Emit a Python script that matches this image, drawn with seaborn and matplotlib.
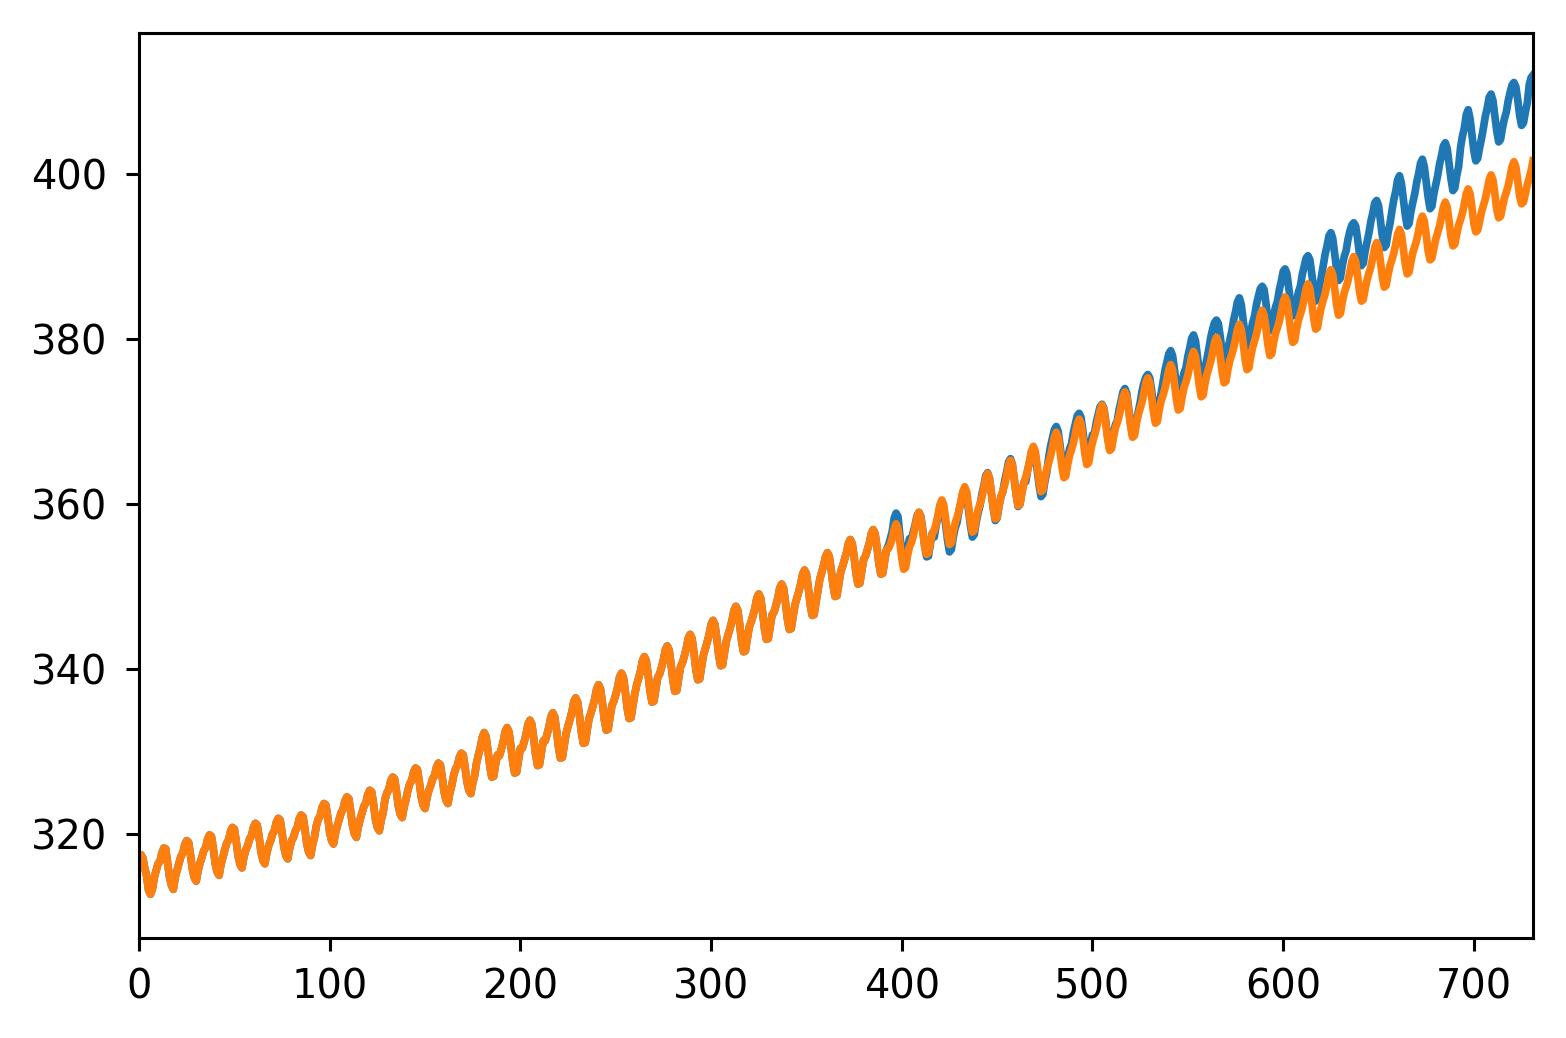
import numpy as np
import pandas as pd
import matplotlib
matplotlib.use("Agg")
import matplotlib.pyplot as plt
import seaborn as sns

# Monthly CO2 (ppm), Apr 1958 .. Mar 2019, one row per year
co2_observed = [
    317.5, 317.5, 317.1, 315.9, 314.9, 313.2, 312.7, 313.3, 314.7,                 # 1958 (Apr-Dec)
    315.6, 316.4, 316.7, 317.7, 318.3, 318.2, 316.5, 314.8, 313.8, 313.3, 314.8, 315.6,  # 1959
    316.5, 317.3, 317.7, 318.7, 319.2, 319.0, 317.5, 315.7, 314.7, 314.3, 315.6, 316.5,  # 1960
    317.2, 318.0, 318.4, 319.4, 319.9, 319.7, 318.2, 316.4, 315.4, 315.0, 316.3, 317.2,  # 1961
    318.1, 318.9, 319.3, 320.3, 320.8, 320.6, 319.1, 317.3, 316.3, 315.9, 317.2, 318.1,  # 1962
    318.6, 319.4, 319.8, 320.8, 321.3, 321.1, 319.6, 317.8, 316.8, 316.4, 317.7, 318.6,  # 1963
    319.2, 320.0, 320.4, 321.4, 321.9, 321.7, 320.2, 318.4, 317.4, 317.0, 318.3, 319.2,  # 1964
    319.6, 320.4, 320.8, 321.8, 322.3, 322.1, 320.6, 318.8, 317.8, 317.4, 318.7, 319.6,  # 1965
    321.0, 321.8, 322.2, 323.2, 323.7, 323.5, 322.0, 320.2, 319.2, 318.8, 320.1, 321.0,  # 1966
    321.8, 322.6, 323.0, 324.0, 324.5, 324.3, 322.8, 321.0, 320.0, 319.6, 320.9, 321.8,  # 1967
    322.6, 323.4, 323.8, 324.8, 325.3, 325.1, 323.6, 321.8, 320.8, 320.4, 321.7, 322.6,  # 1968
    324.2, 325.0, 325.4, 326.4, 326.9, 326.7, 325.2, 323.4, 322.4, 322.0, 323.3, 324.2,  # 1969
    325.3, 326.1, 326.5, 327.5, 328.0, 327.8, 326.3, 324.5, 323.5, 323.1, 324.4, 325.3,  # 1970
    325.9, 326.7, 327.1, 328.1, 328.6, 328.4, 326.9, 325.1, 324.1, 323.7, 325.0, 325.9,  # 1971
    327.1, 327.9, 328.3, 329.3, 329.8, 329.6, 328.1, 326.3, 325.3, 324.9, 326.2, 327.1,  # 1972
    328.6, 329.6, 330.5, 331.7, 332.3, 331.8, 330.1, 328.2, 326.9, 327.0, 328.5, 329.6,  # 1973
    329.5, 330.3, 331.2, 332.4, 332.9, 332.4, 330.7, 328.7, 327.4, 327.5, 329.0, 330.4,  # 1974
    330.4, 331.2, 332.1, 333.3, 333.8, 333.3, 331.6, 329.6, 328.3, 328.4, 329.9, 331.3,  # 1975
    331.3, 332.1, 333.0, 334.2, 334.7, 334.2, 332.5, 330.5, 329.2, 329.3, 330.8, 332.2,  # 1976
    333.1, 333.9, 334.8, 336.0, 336.5, 336.0, 334.3, 332.3, 331.0, 331.1, 332.6, 334.0,  # 1977
    334.7, 335.5, 336.4, 337.6, 338.1, 337.6, 335.9, 333.9, 332.6, 332.7, 334.2, 335.6,  # 1978
    336.1, 336.9, 337.8, 339.0, 339.5, 339.0, 337.3, 335.3, 334.0, 334.1, 335.6, 337.0,  # 1979
    338.1, 338.9, 339.8, 341.0, 341.5, 341.0, 339.3, 337.3, 336.0, 336.1, 337.6, 339.0,  # 1980
    339.4, 340.2, 341.1, 342.3, 342.8, 342.3, 340.6, 338.6, 337.3, 337.4, 338.9, 340.3,  # 1981
    340.8, 341.6, 342.5, 343.7, 344.2, 343.7, 342.0, 340.0, 338.7, 338.8, 340.3, 341.7,  # 1982
    342.5, 343.3, 344.2, 345.4, 345.9, 345.4, 343.7, 341.7, 340.4, 340.5, 342.0, 343.4,  # 1983
    344.2, 345.0, 345.9, 347.1, 347.6, 347.1, 345.4, 343.4, 342.1, 342.2, 343.7, 345.1,  # 1984
    345.7, 346.5, 347.4, 348.6, 349.1, 348.6, 346.9, 344.9, 343.6, 343.7, 345.2, 346.6,  # 1985
    346.9, 347.7, 348.6, 349.8, 350.3, 349.8, 348.1, 346.1, 344.8, 344.9, 346.4, 347.8,  # 1986
    348.6, 349.4, 350.3, 351.5, 352.0, 351.5, 349.8, 347.8, 346.5, 346.6, 348.1, 349.5,  # 1987
    350.9, 351.7, 352.6, 353.6, 354.1, 353.6, 352.0, 350.1, 348.8, 348.9, 350.4, 351.8,  # 1988
    352.5, 353.3, 354.1, 355.2, 355.7, 355.2, 353.6, 351.6, 350.3, 350.4, 351.9, 353.3,  # 1989
    353.7, 354.5, 355.3, 356.4, 356.9, 356.4, 354.8, 352.8, 351.5, 351.6, 353.1, 354.5,  # 1990
    355.0, 355.8, 356.7, 358.3, 358.9, 358.5, 356.2, 354.2, 352.9, 353.0, 354.5, 355.8,  # 1991
    355.8, 356.6, 357.5, 358.6, 359.0, 358.5, 356.9, 354.9, 353.6, 353.7, 355.2, 356.5,  # 1992
    356.0, 357.4, 358.4, 359.7, 360.3, 359.4, 357.5, 355.6, 354.2, 354.5, 356.0, 357.1,  # 1993
    357.8, 359.2, 360.2, 361.4, 361.8, 361.1, 359.3, 357.4, 356.0, 356.3, 357.8, 358.9,  # 1994
    359.8, 361.2, 362.2, 363.4, 363.8, 363.1, 361.3, 359.4, 358.0, 358.3, 359.8, 360.9,  # 1995
    361.5, 362.9, 363.9, 365.1, 365.5, 364.8, 363.0, 361.1, 359.7, 360.0, 361.5, 362.6,  # 1996
    362.7, 364.1, 365.1, 366.3, 366.8, 366.0, 364.2, 362.3, 360.9, 361.2, 362.7, 363.8,  # 1997
    365.6, 367.0, 368.0, 369.0, 369.4, 368.8, 367.1, 365.2, 363.8, 364.1, 365.6, 366.7,  # 1998
    367.3, 368.7, 369.7, 370.7, 371.0, 370.5, 368.8, 366.9, 365.5, 365.8, 367.3, 368.4,  # 1999
    368.5, 369.9, 370.9, 371.8, 372.1, 371.6, 370.0, 368.1, 366.7, 367.0, 368.5, 369.6,  # 2000
    370.1, 371.5, 372.5, 373.6, 374.0, 373.4, 371.6, 369.7, 368.3, 368.6, 370.1, 371.2,  # 2001
    372.3, 373.7, 374.7, 375.4, 375.7, 375.3, 373.8, 371.9, 370.5, 370.8, 372.3, 373.4,  # 2002
    374.8, 376.2, 377.2, 378.2, 378.6, 378.0, 376.3, 374.4, 373.0, 373.3, 374.8, 375.9,  # 2003
    376.5, 377.9, 378.9, 380.1, 380.5, 379.8, 378.0, 376.1, 374.7, 375.0, 376.5, 377.6,  # 2004
    378.8, 380.2, 381.2, 382.0, 382.3, 381.9, 380.3, 378.4, 377.0, 377.3, 378.8, 379.9,  # 2005
    380.9, 382.3, 383.3, 384.5, 385.0, 384.2, 382.4, 380.5, 379.1, 379.4, 380.9, 382.0,  # 2006
    382.8, 384.2, 385.2, 386.1, 386.4, 386.0, 384.3, 382.4, 381.0, 381.3, 382.8, 383.9,  # 2007
    384.6, 386.0, 387.0, 388.2, 388.5, 387.9, 386.1, 384.2, 382.8, 383.1, 384.6, 385.7,  # 2008
    386.4, 387.8, 388.8, 389.8, 390.1, 389.6, 387.9, 386.0, 384.6, 384.9, 386.4, 387.5,  # 2009
    388.9, 390.3, 391.3, 392.5, 392.9, 392.2, 390.4, 388.5, 387.1, 387.4, 388.9, 390.0,  # 2010
    390.7, 392.1, 393.1, 393.8, 394.1, 393.7, 392.2, 390.3, 388.9, 389.2, 390.7, 391.8,  # 2011
    392.9, 394.3, 395.3, 396.5, 396.8, 396.2, 394.4, 392.5, 391.1, 391.4, 392.9, 394.0,  # 2012
    395.5, 396.9, 397.9, 399.3, 399.8, 398.9, 397.0, 395.1, 393.7, 394.0, 395.5, 396.6,  # 2013
    397.6, 399.0, 400.0, 401.3, 401.8, 400.9, 399.1, 397.2, 395.8, 396.1, 397.6, 398.7,  # 2014
    399.8, 401.2, 402.2, 403.4, 403.8, 403.1, 401.3, 399.4, 398.0, 398.3, 399.8, 400.9,  # 2015
    403.2, 404.6, 405.6, 407.2, 407.8, 406.7, 404.7, 402.8, 401.6, 401.9, 403.2, 404.3,  # 2016
    405.6, 407.0, 408.0, 409.3, 409.7, 408.9, 407.1, 405.2, 403.9, 404.2, 405.6, 406.7,  # 2017
    407.5, 408.9, 409.9, 410.8, 411.1, 410.6, 409.0, 407.1, 405.9, 406.2, 407.5, 408.6,  # 2018
    410.8, 411.7, 412.0,                                                             # 2019 (Jan-Mar)
]

# Model curve: identical to the observations up to Dec 1990, then its own values
co2_model_from_1991 = [
    354.6, 355.1, 355.9, 357.0, 357.6, 357.0, 355.3, 353.4, 352.1, 352.3, 353.7, 354.8,  # 1991
    355.3, 356.1, 357.2, 358.4, 359.0, 358.4, 356.7, 354.8, 353.9, 354.1, 355.4, 356.4,  # 1992
    356.8, 357.6, 358.7, 359.9, 360.5, 359.9, 358.2, 356.3, 355.1, 355.3, 356.6, 357.7,  # 1993
    358.4, 359.2, 360.3, 361.5, 362.1, 361.5, 359.8, 357.9, 356.6, 356.8, 358.2, 359.3,  # 1994
    360.0, 360.8, 361.9, 363.1, 363.7, 363.1, 361.4, 359.5, 358.2, 358.4, 359.8, 360.9,  # 1995
    361.6, 362.4, 363.5, 364.7, 365.3, 364.7, 363.0, 361.1, 359.8, 360.0, 361.4, 362.5,  # 1996
    363.3, 364.1, 365.2, 366.4, 367.0, 366.4, 364.7, 362.8, 361.5, 361.7, 363.1, 364.2,  # 1997
    365.0, 365.8, 366.9, 368.1, 368.7, 368.1, 366.4, 364.5, 363.2, 363.4, 364.8, 365.9,  # 1998
    366.6, 367.4, 368.5, 369.7, 370.3, 369.7, 368.0, 366.1, 364.8, 365.0, 366.4, 367.5,  # 1999
    368.3, 369.1, 370.2, 371.4, 372.0, 371.4, 369.7, 367.8, 366.5, 366.7, 368.1, 369.2,  # 2000
    369.9, 370.7, 371.8, 373.0, 373.6, 373.0, 371.3, 369.4, 368.1, 368.3, 369.7, 370.8,  # 2001
    371.6, 372.4, 373.5, 374.7, 375.3, 374.7, 373.0, 371.1, 369.8, 370.0, 371.4, 372.5,  # 2002
    373.2, 374.0, 375.1, 376.3, 376.9, 376.3, 374.6, 372.7, 371.4, 371.6, 373.0, 374.1,  # 2003
    374.8, 375.6, 376.7, 377.9, 378.5, 377.9, 376.2, 374.3, 373.0, 373.2, 374.6, 375.7,  # 2004
    376.5, 377.3, 378.4, 379.6, 380.2, 379.6, 377.9, 376.0, 374.7, 374.9, 376.3, 377.4,  # 2005
    378.1, 378.9, 380.0, 381.2, 381.8, 381.2, 379.5, 377.6, 376.3, 376.5, 377.9, 379.0,  # 2006
    379.8, 380.6, 381.7, 382.9, 383.5, 382.9, 381.2, 379.3, 378.0, 378.2, 379.6, 380.7,  # 2007
    381.4, 382.2, 383.3, 384.5, 385.1, 384.5, 382.8, 380.9, 379.6, 379.8, 381.2, 382.3,  # 2008
    383.0, 383.8, 384.9, 386.1, 386.7, 386.1, 384.4, 382.5, 381.2, 381.4, 382.8, 383.9,  # 2009
    384.7, 385.5, 386.6, 387.8, 388.4, 387.8, 386.1, 384.2, 382.9, 383.1, 384.5, 385.6,  # 2010
    386.3, 387.1, 388.2, 389.4, 390.0, 389.4, 387.7, 385.8, 384.6, 384.8, 386.1, 387.2,  # 2011
    388.0, 388.8, 389.9, 391.1, 391.7, 391.1, 389.4, 387.5, 386.3, 386.5, 387.8, 388.9,  # 2012
    389.6, 390.4, 391.5, 392.7, 393.3, 392.7, 391.0, 389.1, 387.9, 388.1, 389.4, 390.5,  # 2013
    391.2, 392.0, 393.1, 394.3, 394.9, 394.3, 392.6, 390.7, 389.6, 389.8, 391.0, 392.1,  # 2014
    392.9, 393.7, 394.8, 396.0, 396.6, 396.0, 394.3, 392.4, 391.3, 391.5, 392.7, 393.8,  # 2015
    394.5, 395.3, 396.4, 397.6, 398.2, 397.6, 395.9, 394.0, 393.0, 393.2, 394.3, 395.4,  # 2016
    396.2, 397.0, 398.1, 399.3, 399.9, 399.3, 397.6, 395.7, 394.7, 394.9, 396.0, 397.1,  # 2017
    397.8, 398.6, 399.7, 400.9, 401.5, 400.9, 399.2, 397.3, 396.4, 396.6, 397.6, 398.7,  # 2018
    399.5, 400.4, 401.6,                                                             # 2019 (Jan-Mar)
]

n_before_1991 = 9 + 32 * 12
co2_model = co2_observed[:n_before_1991] + co2_model_from_1991

series_names = ["observed", "model"]
series_colors = ["#1f77b4", "#ff7f0e"]
x_ticks = [0, 100, 200, 300, 400, 500, 600, 700]
y_ticks = [320, 340, 360, 380, 400]

month_index = list(range(len(co2_observed)))
df = pd.concat([
    pd.DataFrame({"month": month_index, "co2": co2_observed, "series": series_names[0]}),
    pd.DataFrame({"month": month_index, "co2": co2_model, "series": series_names[1]}),
], ignore_index=True)

DPI = 277
fig = plt.figure(figsize=(1567 / DPI, 1038 / DPI), dpi=DPI)
ax = fig.add_axes([139 / 1567, 1 - 938 / 1038, (1533 - 139) / 1567, (938 - 33) / 1038])

sns.lineplot(data=df, x="month", y="co2", hue="series", palette=series_colors,
             hue_order=series_names, linewidth=2.0, legend=False, ax=ax, estimator=None)

ax.set_xlim(0, len(co2_observed) - 1)
ax.set_ylim(307.4, 417.1)
ax.set_xticks(x_ticks)
ax.set_yticks(y_ticks)
ax.set_xlabel("")
ax.set_ylabel("")
ax.tick_params(labelsize=10.4)
ax.tick_params(axis="y", pad=4.7)
ax.tick_params(axis="x", pad=4.1)

fig.savefig("out.png", dpi=DPI)
